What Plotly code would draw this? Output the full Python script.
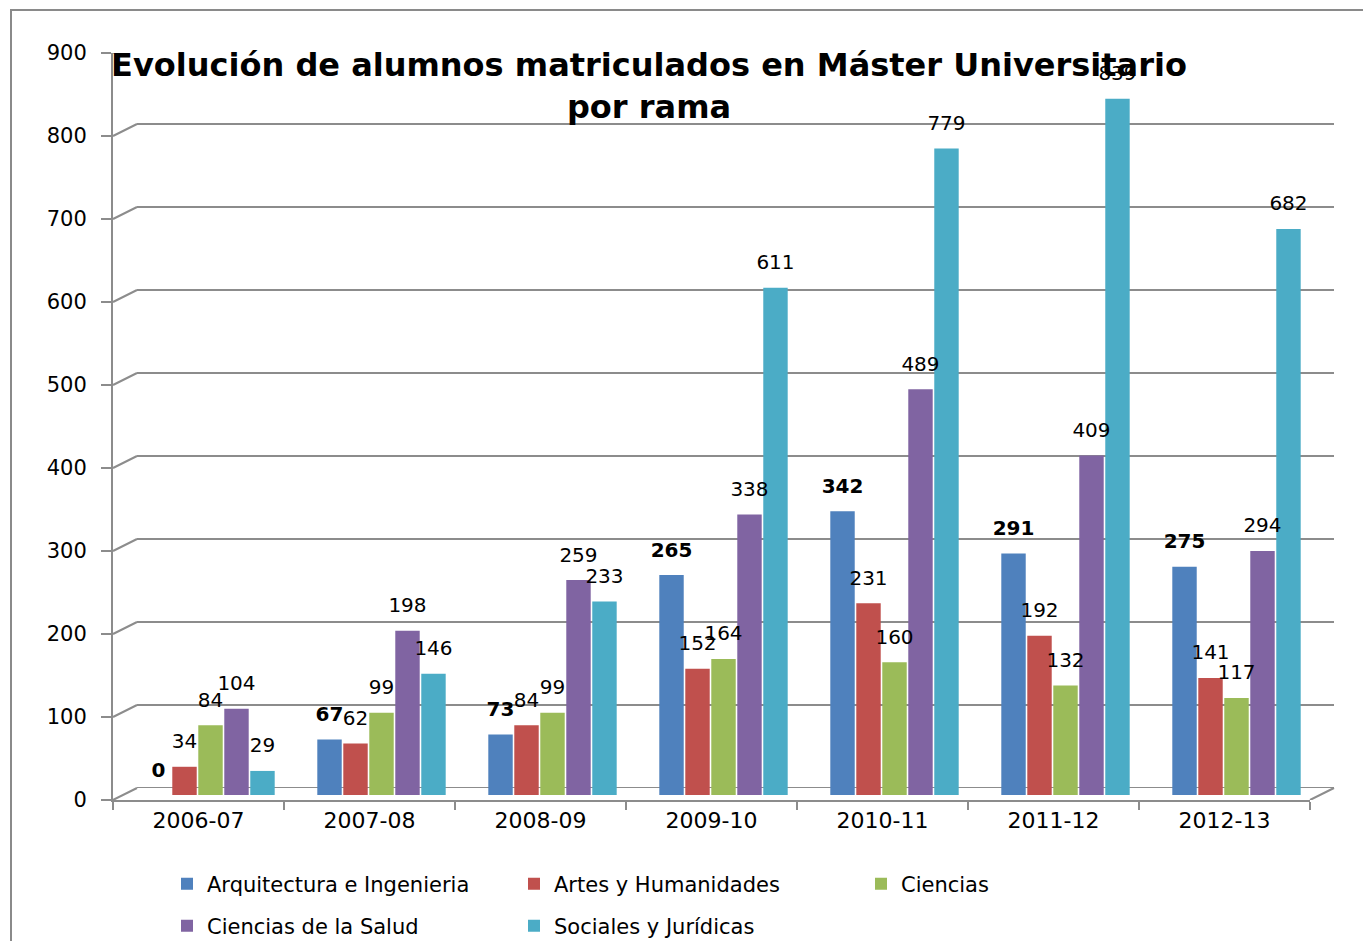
import plotly.graph_objects as go

# page size and body margin compensation
PAGE_W, PAGE_H = 1371, 949
BODY = 8
W, H = PAGE_W - 2 * BODY, PAGE_H - 2 * BODY

categories = ["2006-07", "2007-08", "2008-09", "2009-10", "2010-11", "2011-12", "2012-13"]
series_names = ["Arquitectura e Ingenieria", "Artes y Humanidades", "Ciencias",
                "Ciencias de la Salud", "Sociales y Jurídicas"]
arquitectura = [0, 67, 73, 265, 342, 291, 275]
artes = [34, 62, 84, 152, 231, 192, 141]
ciencias = [84, 99, 99, 164, 160, 132, 117]
salud = [104, 198, 259, 338, 489, 409, 294]
sociales = [29, 146, 233, 611, 779, 839, 682]
y_ticks = [0, 100, 200, 300, 400, 500, 600, 700, 800, 900]

series_values = [arquitectura, artes, ciencias, salud, sociales]
colors = ["#4F81BD", "#C0504D", "#9BBB59", "#8064A2", "#4BACC6"]
legend_ids = ["legend", "legend", "legend", "legend2", "legend2"]

FONT = "DejaVu Sans"
GRID = "#8c8c8c"


def px_x(p):
    return (p - BODY) / W


def px_y(p):
    return (H - (p - BODY)) / H


fig = go.Figure()

# back wall (gridlines) subplot
fig.add_trace(go.Scatter(x=categories, y=[None] * len(categories), xaxis="x", yaxis="y",
                         showlegend=False, hoverinfo="skip"))
# front axes subplot (labels, ticks)
fig.add_trace(go.Scatter(x=categories, y=[None] * len(categories), xaxis="x2", yaxis="y2",
                         showlegend=False, hoverinfo="skip"))

for i, (name, vals, col) in enumerate(zip(series_names, series_values, colors)):
    fig.add_trace(go.Bar(
        x=categories, y=vals, name=name, xaxis="x3", yaxis="y3",
        marker=dict(color=col, line=dict(width=0)),
        legend=legend_ids[i], offsetgroup=str(i),
    ))

# data labels, aligned with the grouped bars
for i, (name, vals) in enumerate(zip(series_names, series_values)):
    fig.add_trace(go.Scatter(
        x=categories, y=vals, xaxis="x3", yaxis="y3", mode="markers+text",
        text=vals, textposition="top center", cliponaxis=False,
        marker=dict(size=20, opacity=0), offsetgroup=str(i),
        textfont=dict(family=FONT, size=20, color="black",
                      weight="bold" if i == 0 else "normal"),
        showlegend=False, hoverinfo="skip",
    ))

yr = [0, 900]
xr = [-0.5, len(categories) - 0.5]
fig.update_layout(
    width=W, height=H, autosize=False,
    margin=dict(l=0, r=0, t=0, b=0, autoexpand=False),
    paper_bgcolor="white", plot_bgcolor="rgba(0,0,0,0)",
    barmode="group", bargap=0.24, bargroupgap=0.06,
    scattermode="group", scattergap=0.24,
    font=dict(family=FONT, size=20, color="black"),
    title=dict(text="<b>Evolución de alumnos matriculados en Máster Universitario<br>por rama</b>",
               x=px_x(649), xanchor="center", y=px_y(76), yanchor="top",
               font=dict(family=FONT, size=32, color="black")),
    # back wall
    xaxis=dict(domain=[px_x(137), px_x(1334)], anchor="y", showgrid=False,
               showticklabels=False, ticks="", showline=False, zeroline=False,
               type="category", range=xr, fixedrange=True, automargin=False),
    yaxis=dict(domain=[px_y(788), px_y(41)], anchor="x", range=yr,
               tickvals=y_ticks, showgrid=True, gridcolor=GRID, gridwidth=2,
               showticklabels=False, ticks="", showline=False, zeroline=False,
               fixedrange=True, automargin=False),
    # front axes
    xaxis2=dict(domain=[px_x(113), px_x(1310)], anchor="y2", type="category", range=xr,
                showgrid=False, showline=True, linecolor=GRID, linewidth=2,
                ticks="outside", tickson="boundaries", ticklen=8, tickcolor=GRID,
                tickwidth=2, tickfont=dict(family=FONT, size=22), zeroline=False,
                fixedrange=True, automargin=False),
    yaxis2=dict(domain=[px_y(800), px_y(53)], anchor="x2", range=yr,
                tickvals=y_ticks, showgrid=False, showline=True, linecolor=GRID,
                linewidth=2, ticks="outside", ticklen=10, tickcolor=GRID, tickwidth=2,
                tickfont=dict(family=FONT, size=21), ticklabelstandoff=10,
                zeroline=False, fixedrange=True, automargin=False),
    # bars
    xaxis3=dict(domain=[px_x(125), px_x(1322)], anchor="y3", type="category", range=xr,
                showgrid=False, showticklabels=False, ticks="", showline=False,
                zeroline=False, fixedrange=True, automargin=False),
    yaxis3=dict(domain=[px_y(795), px_y(48)], anchor="x3", range=yr,
                showgrid=False, showticklabels=False, ticks="", showline=False,
                zeroline=False, fixedrange=True, automargin=False),
    legend=dict(orientation="h", x=px_x(167), y=px_y(884), xanchor="left", yanchor="middle",
                entrywidth=302, entrywidthmode="pixels", traceorder="normal",
                font=dict(family=FONT, size=21), itemwidth=30,
                bgcolor="rgba(0,0,0,0)"),
    legend2=dict(orientation="h", x=px_x(167), y=px_y(926), xanchor="left", yanchor="middle",
                 entrywidth=302, entrywidthmode="pixels", traceorder="normal",
                 font=dict(family=FONT, size=21), itemwidth=30,
                 bgcolor="rgba(0,0,0,0)"),
)

shapes = []
# outer chart frame
shapes.append(dict(type="rect", xref="paper", yref="paper",
                   x0=px_x(11), x1=1.05, y0=-0.05, y1=px_y(10),
                   line=dict(color="#8a8a8a", width=2), fillcolor="rgba(0,0,0,0)", layer="below"))
# 3D side wall diagonals from front ticks to back gridlines
for v in y_ticks:
    shapes.append(dict(type="line", xref="paper", yref="y2", ysizemode="pixel", yanchor=v,
                       x0=px_x(113), x1=px_x(137), y0=0, y1=12,
                       line=dict(color=GRID, width=2), layer="below"))
# back floor line and right floor diagonal
shapes.append(dict(type="line", xref="paper", yref="y", x0=px_x(137), x1=px_x(1334),
                   y0=0, y1=0, line=dict(color=GRID, width=2), layer="below"))
shapes.append(dict(type="line", xref="paper", yref="y2", ysizemode="pixel", yanchor=0,
                   x0=px_x(1310), x1=px_x(1334), y0=0, y1=12,
                   line=dict(color=GRID, width=2), layer="below"))
fig.update_layout(shapes=shapes)

fig.write_html("out.html")
